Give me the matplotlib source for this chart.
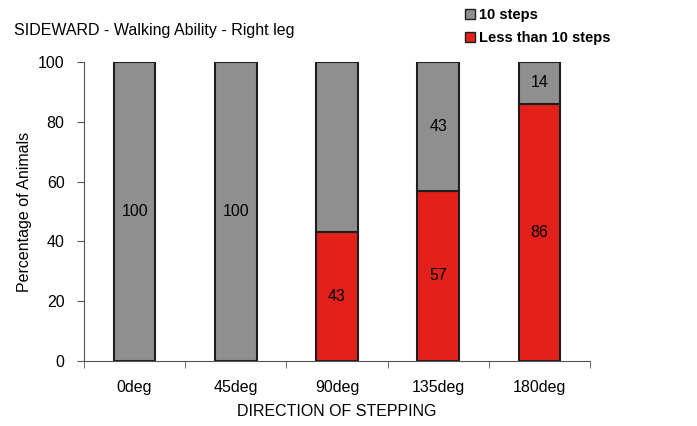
import matplotlib.pyplot as plt
import numpy as np
from matplotlib.patches import Patch

plt.rcParams['font.family'] = ['Liberation Sans', 'DejaVu Sans']

directions = ['0deg', '45deg', '90deg', '135deg', '180deg']
less_than_10 = [0, 0, 43, 57, 86]
ten_steps = [100, 100, 57, 43, 14]
# the 90deg grey segment carries no label in the original
show_ten_label = [True, True, False, True, True]
series_names = ['10 steps', 'Less than 10 steps']

gray = '#8f8f8f'
red = '#e3211a'
edge = '#1e1e1e'

fig = plt.figure(figsize=(6.97, 4.26), dpi=100)
ax = fig.add_axes([0.1205, 0.1526, 0.726, 0.702])

x = np.arange(len(directions))
w = 0.41
ax.bar(x, less_than_10, w, color=red, edgecolor=edge, linewidth=1.5)
ax.bar(x, ten_steps, w, bottom=less_than_10, color=gray, edgecolor=edge, linewidth=1.5)

for i in range(len(x)):
    if less_than_10[i] > 0:
        ax.text(x[i], less_than_10[i] / 2, str(less_than_10[i]), ha='center', va='center', fontsize=11.5)
    if show_ten_label[i]:
        ax.text(x[i], less_than_10[i] + ten_steps[i] / 2, str(ten_steps[i]), ha='center', va='center', fontsize=11.5)

ax.set_xlim(-0.5, 4.5)
ax.set_ylim(0, 100)
ax.set_yticks([0, 20, 40, 60, 80, 100])
ax.set_xticks(x)
ax.set_xticklabels(directions, fontsize=11.5)
ax.set_xticks(np.arange(-0.5, 5, 1), minor=True)
ax.tick_params(axis='x', which='major', length=0, pad=14)
ax.tick_params(axis='x', which='minor', length=5, color='#555555')
ax.tick_params(axis='y', length=5, color='#555555', labelsize=11.5, pad=9)
ax.spines['top'].set_visible(False)
ax.spines['right'].set_visible(False)
ax.spines['left'].set_color('#555555')
ax.spines['bottom'].set_color('#555555')
ax.set_ylabel('Percentage of Animals', fontsize=11.5, labelpad=4)
ax.set_xlabel('DIRECTION OF STEPPING', fontsize=11.5, labelpad=6)

fig.text(0.02, 0.928, 'SIDEWARD - Walking Ability - Right leg', fontsize=11.5, ha='left', va='center')

handles = [Patch(facecolor=gray, edgecolor=edge), Patch(facecolor=red, edgecolor=edge)]
fig.legend(handles, series_names, loc='upper left', bbox_to_anchor=(0.648, 1.012), frameon=False,
           handlelength=0.7, handleheight=0.7, handletextpad=0.25, labelspacing=0.6,
           prop={'weight': 'bold', 'size': 10.5})

fig.savefig('out.png', dpi=100)
